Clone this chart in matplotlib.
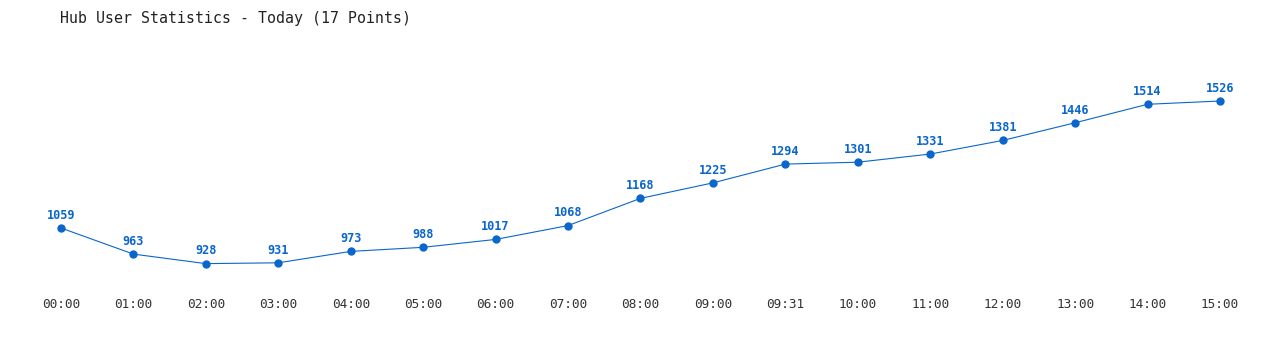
import matplotlib.pyplot as plt

times = ['00:00', '01:00', '02:00', '03:00', '04:00', '05:00', '06:00', '07:00',
         '08:00', '09:00', '09:31', '10:00', '11:00', '12:00', '13:00', '14:00', '15:00']
users = [1059, 963, 928, 931, 973, 988, 1017, 1068, 1168, 1225, 1294, 1301, 1331,
         1381, 1446, 1514, 1526]

blue = '#0a66cc'
mono = 'DejaVu Sans Mono'

fig = plt.figure(figsize=(12.8, 3.5), dpi=100)
# axes from pixel y=40 to y=290
ax = fig.add_axes([0, 60 / 350, 1, 250 / 350])
x = list(range(len(users)))
ax.plot(x, users, color=blue, linewidth=0.8, marker='o', markersize=5)

for i, v in zip(x, users):
    ax.annotate(str(v), (i, v), xytext=(0, 4.5), textcoords='offset points',
                ha='center', va='bottom', fontsize=8.6, fontweight='bold',
                color=blue, family=mono)

ax.set_xlim(-61 / 72.44, 16 + 60 / 72.44)
ax.set_ylim(831, 1750.4)
ax.set_xticks(x)
ax.set_xticklabels(times, family=mono, fontsize=9.2, color='#333333')
ax.tick_params(axis='x', length=0, pad=6)
ax.set_yticks([])
for s in ax.spines.values():
    s.set_visible(False)

fig.text(60 / 1280, 1 - 18 / 350, 'Hub User Statistics - Today (17 Points)',
         family=mono, fontsize=10.7, color='#222222', va='center', ha='left')

fig.savefig('out.png', dpi=100)
